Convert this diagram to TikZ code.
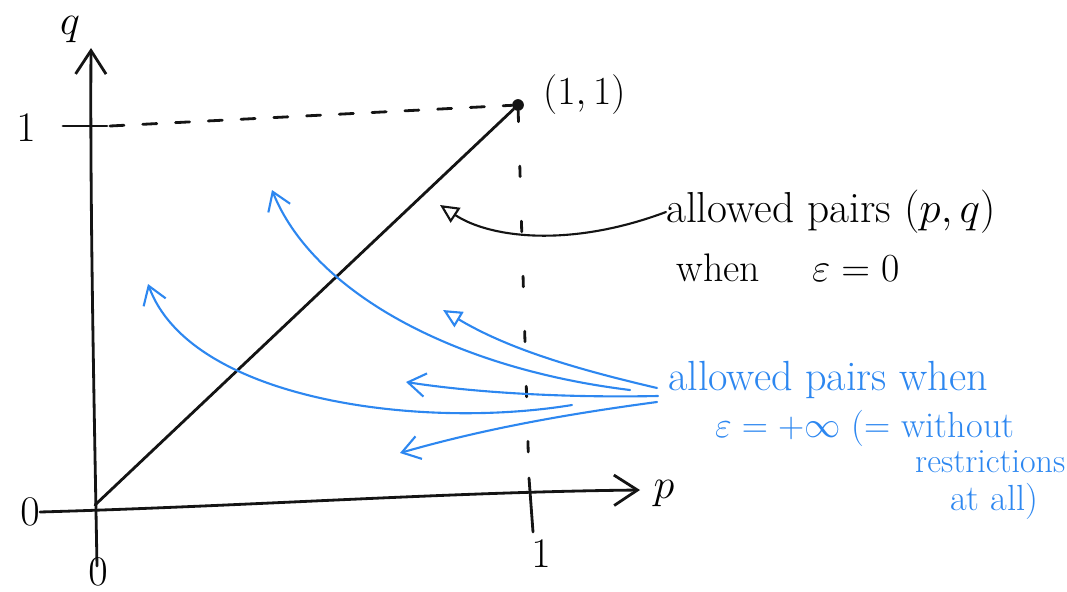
\RequirePackage{fix-cm}
\documentclass[tikz,border=0pt]{standalone}
\usepackage{amsmath,amssymb}
\usepackage[dvipsnames]{xcolor}
\usepackage{tikz}
\usetikzlibrary{arrows.meta}
\definecolor{penblue}{RGB}{45,135,240}
\definecolor{penblack}{RGB}{20,20,20}
\tikzset{
  pen/.style={line width=2.4pt, penblack, line cap=round, line join=round},
  bluepen/.style={line width=1.8pt, penblue, line cap=round, line join=round},
  handtxt/.style={font=\fontsize{#1}{#1}\selectfont, inner sep=0pt},
  handtxt/.default=34,
  axistip/.style={-{Straight Barb[length=20pt,width=26pt]}},
  barbtip/.style={-{Straight Barb[length=15pt,width=20pt]}},
  opentip/.style={-{Triangle[open,length=16pt,width=15pt]}}
}

\begin{document}
\begin{tikzpicture}[x=0.03cm, y=-0.03cm]
  \useasboundingbox (0,0) rectangle (1067,592);

  % Axes
  \coordinate (qfoot) at (97,566);
  \coordinate (qtop) at (91,48);
  \coordinate (pfoot) at (40,512);
  \coordinate (ptop) at (640,490);
  \draw[pen, axistip] (qfoot) .. controls (94,400) and (90,200) .. (qtop);
  \draw[pen, axistip] (pfoot) .. controls (250,506) and (450,492) .. (ptop);

  % Axis labels
  \node[handtxt=36] (qlab) at (70,30) {$q$};
  \node[handtxt=36] (plab) at (664,494) {$p$};
  \node[handtxt=36] (zerox) at (30,512) {$0$};
  \node[handtxt=36] (zeroy) at (98,572) {$0$};
  \node[handtxt=36] (oneq) at (26,128) {$1$};
  \node[handtxt=36] (onep) at (541,554) {$1$};

  % Ticks
  \draw[pen] (63,126) -- (107,126);
  \draw[pen] (529,478) -- (533,532);

  % Corner point (1,1)
  \node[circle, fill=penblack, inner sep=0pt, minimum size=10pt] (corner) at (518,105) {};
  \node[handtxt=34, anchor=west] (cornerlab) at (543,95) {$(1,1)$};

  % Dashed guides
  \draw[pen, dash pattern=on 12pt off 16pt] (110,126) -- (corner);
  \draw[pen, dash pattern=on 9pt off 38pt] (corner) -- (529,478);

  % Diagonal q = p
  \coordinate (origin) at (95,505);
  \draw[pen] (origin) -- (corner);

  % === epsilon = 0 ===
  \node[handtxt=37, anchor=west] (zerotxt) at (666,212) {allowed pairs $(p,q)$};
  \node[handtxt=34] (zerotxtb) at (788,268) {when \quad $\varepsilon = 0$};
  \coordinate (zerotip) at (440,205);
  \draw[pen, line width=1.8pt, opentip]
    (zerotxt.west) .. controls (570,248) and (490,238) .. (zerotip);

  % === epsilon = +infinity ===
  \node[handtxt=36, penblue, anchor=west] (inftxt) at (668,380) {allowed pairs when};
  \node[handtxt=31, penblue, anchor=west] (inftxtb) at (715,428) {$\varepsilon=+\infty$ (= without};
  \node[handtxt=29, penblue, anchor=west] (inftxtc) at (915,462) {restrictions};
  \node[handtxt=31, penblue, anchor=west] (inftxtd) at (950,501) {at all)};

  \coordinate (fanA) at (630,390);
  \coordinate (fanB) at (657,388);
  \coordinate (fanC) at (658,396);
  \coordinate (fanD) at (572,405);
  \coordinate (fanE) at (657,402);
  \coordinate (tipA) at (272,190);
  \coordinate (tipB) at (443,310);
  \coordinate (tipC) at (406,382);
  \coordinate (tipD) at (148,284);
  \coordinate (tipE) at (400,453);

  \draw[bluepen, barbtip] (fanA) .. controls (450,368) and (312,290) .. (tipA);
  \draw[bluepen, opentip] (fanB) .. controls (580,370) and (510,350) .. (tipB);
  \draw[bluepen, barbtip] (fanC) .. controls (560,398) and (470,392) .. (tipC);
  \draw[bluepen, barbtip] (fanD) .. controls (420,430) and (190,400) .. (tipD);
  \draw[bluepen, barbtip] (fanE) .. controls (560,415) and (480,430) .. (tipE);

\end{tikzpicture}
\end{document}
